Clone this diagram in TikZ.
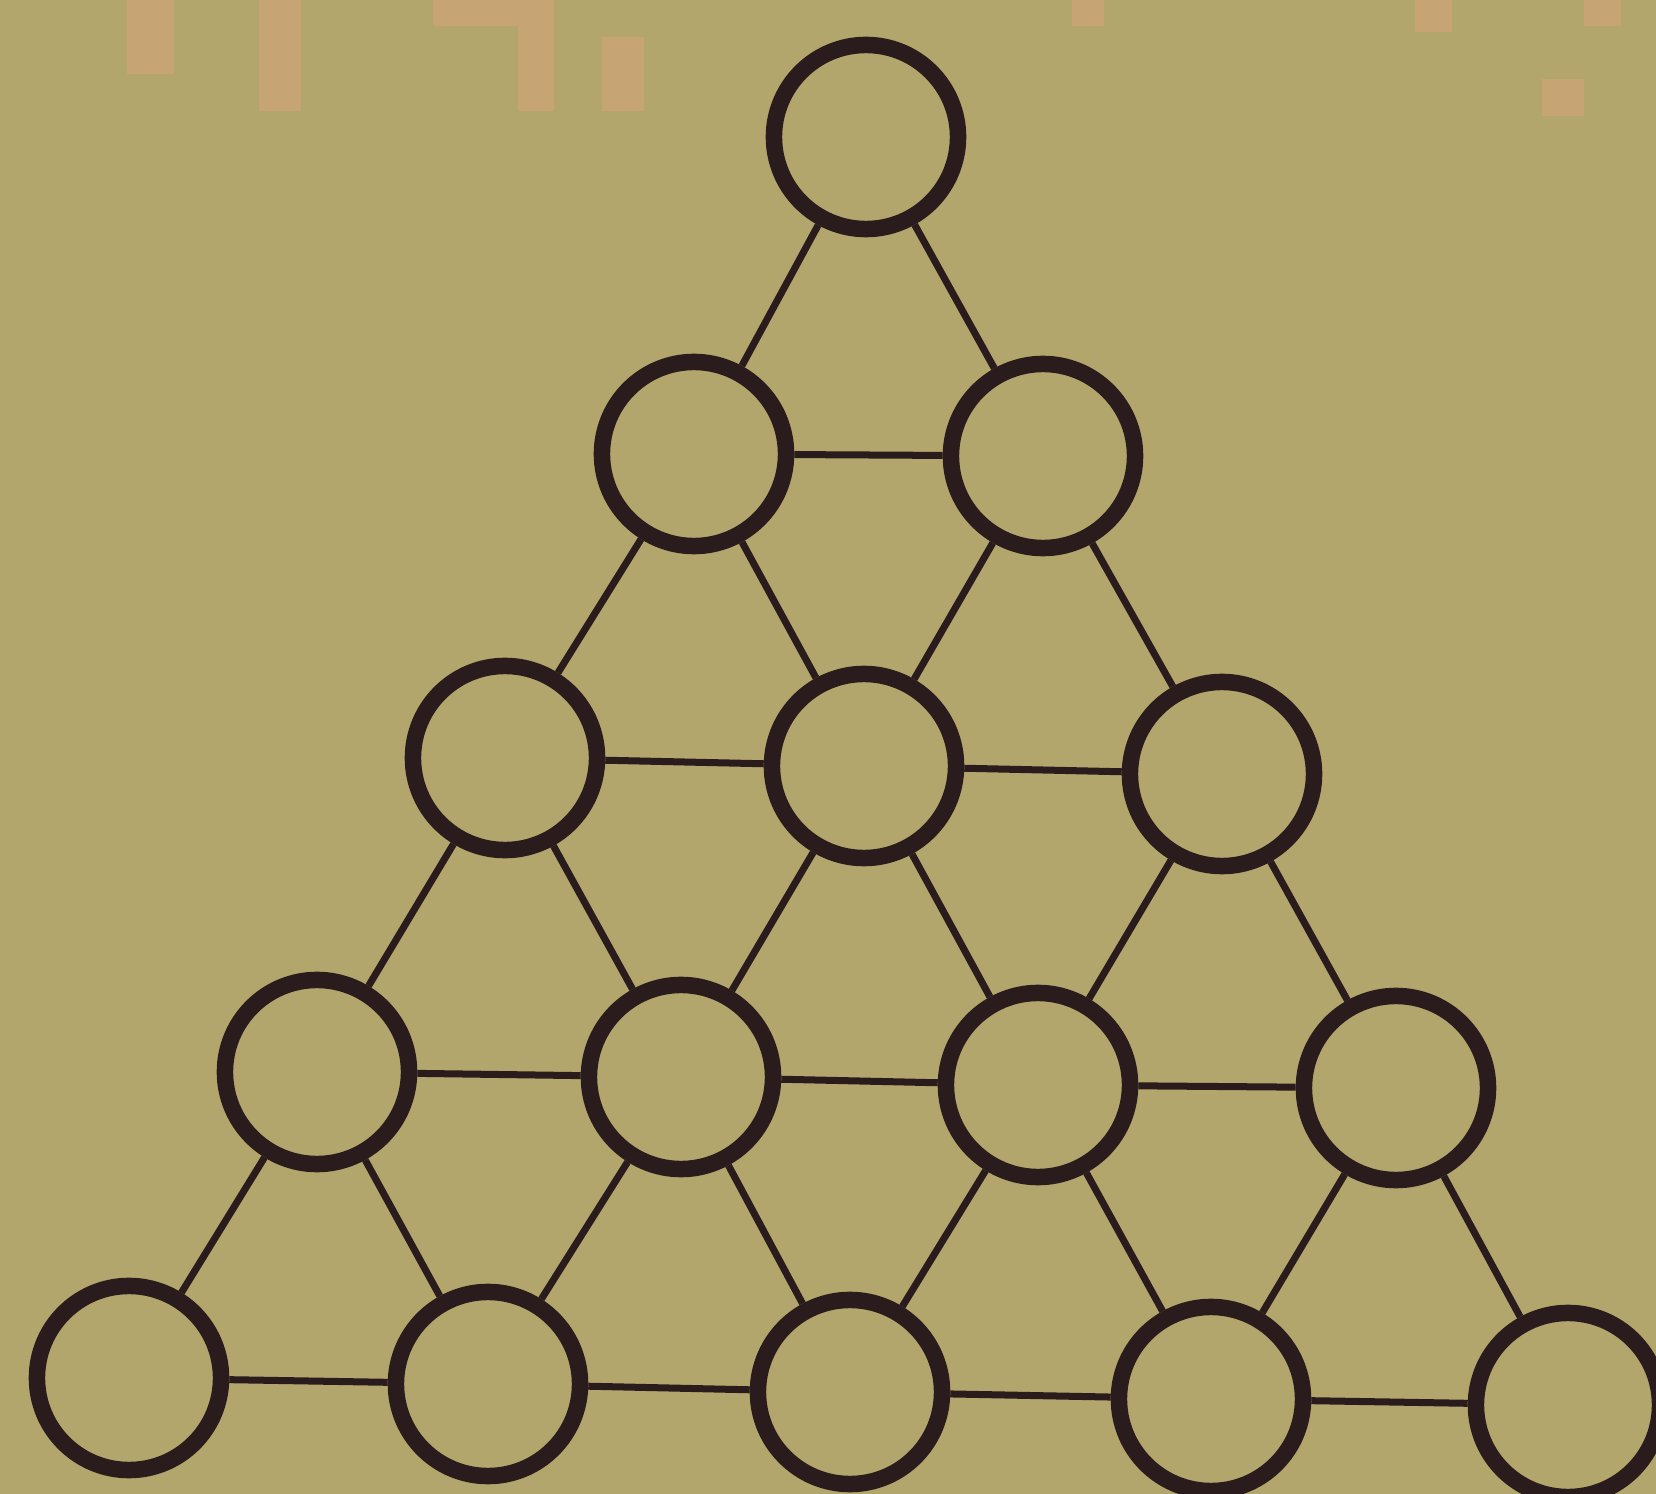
\documentclass[tikz,border=0pt]{standalone}
\definecolor{bg}{RGB}{178,166,108}
\definecolor{ink}{RGB}{42,28,28}
\definecolor{stripe}{RGB}{198,164,116}
\begin{document}
\begin{tikzpicture}[x=0.01cm,y=-0.01cm,
  ring/.style={circle,draw=ink,line width=0.165cm,inner sep=0pt,minimum size=1.84cm},
  link/.style={draw=ink,line width=0.07cm}]
\useasboundingbox (0,0) rectangle (1656,1494);
\clip (0,0) rectangle (1656,1494);
\fill[bg] (0,0) rectangle (1656,1494);
% faint stripes at the top edge
\fill[stripe] (127,0) rectangle (174,74);
\fill[stripe] (259,0) rectangle (301,111);
\fill[stripe] (433,0) rectangle (554,26);
\fill[stripe] (518,26) rectangle (554,111);
\fill[stripe] (602,37) rectangle (644,111);
\fill[stripe] (1072,0) rectangle (1104,26);
\fill[stripe] (1415,0) rectangle (1452,32);
\fill[stripe] (1542,79) rectangle (1584,116);
\fill[stripe] (1584,0) rectangle (1621,26);
% circles
\node[ring] (n00) at (866,137) {};
\node[ring] (n10) at (694,454) {};
\node[ring] (n11) at (1043,456) {};
\node[ring] (n20) at (505,758) {};
\node[ring] (n21) at (864,766) {};
\node[ring] (n22) at (1222,774) {};
\node[ring] (n30) at (317,1072) {};
\node[ring] (n31) at (681,1077) {};
\node[ring] (n32) at (1038,1085) {};
\node[ring] (n33) at (1396,1088) {};
\node[ring] (n40) at (129,1378) {};
\node[ring] (n41) at (488,1384) {};
\node[ring] (n42) at (850,1392) {};
\node[ring] (n43) at (1211,1399) {};
\node[ring] (n44) at (1568,1405) {};
% connectors
\foreach \a/\b in {n00/n10,n00/n11,n10/n11,
  n10/n20,n10/n21,n11/n21,n11/n22,n20/n21,n21/n22,
  n20/n30,n20/n31,n21/n31,n21/n32,n22/n32,n22/n33,n30/n31,n31/n32,n32/n33,
  n30/n40,n30/n41,n31/n41,n31/n42,n32/n42,n32/n43,n33/n43,n33/n44,
  n40/n41,n41/n42,n42/n43,n43/n44}
  \draw[link] (\a) -- (\b);
\end{tikzpicture}
\end{document}
